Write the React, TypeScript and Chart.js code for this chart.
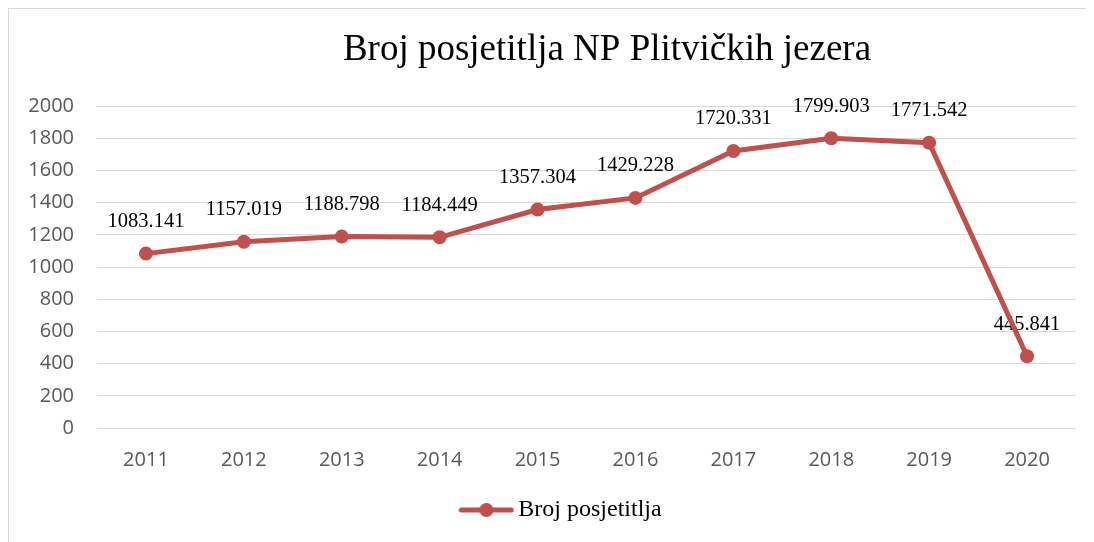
import React, { useEffect, useRef } from "react";
import { Chart, registerables } from "chart.js";

Chart.register(...registerables);

const years = ["2011", "2012", "2013", "2014", "2015", "2016", "2017", "2018", "2019", "2020"];
const visitors = [1083.141, 1157.019, 1188.798, 1184.449, 1357.304, 1429.228, 1720.331, 1799.903, 1771.542, 445.841];
const seriesName = "Broj posjetitlja";
const chartTitle = "Broj posjetitlja NP Plitvičkih jezera";
const yMin = 0;
const yMax = 2000;
const yStep = 200;

const RED = "#C0504D";

function makeLegendIcon(): HTMLCanvasElement {
  const c = document.createElement("canvas");
  c.width = 56;
  c.height = 16;
  const ctx = c.getContext("2d")!;
  ctx.strokeStyle = RED;
  ctx.lineWidth = 5;
  ctx.lineCap = "round";
  ctx.beginPath();
  ctx.moveTo(3, 8);
  ctx.lineTo(53, 8);
  ctx.stroke();
  ctx.fillStyle = RED;
  ctx.beginPath();
  ctx.arc(28, 8, 7, 0, Math.PI * 2);
  ctx.fill();
  return c;
}

export default function App() {
  const ref = useRef<HTMLCanvasElement>(null);

  useEffect(() => {
    document.body.style.overflow = "hidden";
    if (!ref.current) return;
    const icon = makeLegendIcon();

    const titlePlugin = {
      id: "customTitle",
      afterDraw(chart: any) {
        const ctx = chart.ctx;
        ctx.save();
        ctx.font = "37px 'Liberation Serif', 'Times New Roman', serif";
        ctx.fillStyle = "#000";
        ctx.textAlign = "center";
        ctx.textBaseline = "alphabetic";
        ctx.fillText(chartTitle, 599, 52);
        ctx.restore();
      },
    };

    const legendShift = {
      id: "legendShift",
      afterLayout(chart: any) {
        if (chart.legend) {
          chart.legend.left += 22;
          chart.legend.right += 22;
        }
      },
    };

    const labelPlugin = {
      id: "valueLabels",
      beforeDatasetsDraw(chart: any) {
        const ctx = chart.ctx;
        const meta = chart.getDatasetMeta(0);
        ctx.save();
        ctx.font = "20.5px 'Liberation Serif', 'Times New Roman', serif";
        ctx.fillStyle = "#000";
        ctx.textAlign = "center";
        ctx.textBaseline = "middle";
        meta.data.forEach((pt: any, i: number) => {
          ctx.fillText(visitors[i].toFixed(3), pt.x, pt.y - 32);
        });
        ctx.restore();
      },
    };

    const chart = new Chart(ref.current, {
      type: "line",
      data: {
        labels: years,
        datasets: [
          {
            label: seriesName,
            data: visitors,
            borderColor: RED,
            backgroundColor: RED,
            borderWidth: 5,
            pointRadius: 7,
            pointHoverRadius: 7,
            pointBackgroundColor: RED,
            pointBorderColor: RED,
            pointBorderWidth: 0,
            pointStyle: "circle",
            tension: 0,
          },
        ],
      },
      options: {
        animation: false,
        responsive: false,
        events: [],
        layout: { padding: { top: 98, right: 18, bottom: 10, left: 0 } },
        scales: {
          x: {
            offset: true,
            grid: { display: false },
            border: { display: false },
            ticks: {
              color: "#595959",
              font: { family: "'Open Sans', sans-serif", size: 20 },
              padding: 12,
            },
            afterFit(scale: any) {
              scale.height = 62;
            },
          },
          y: {
            min: yMin,
            max: yMax,
            grid: { color: "#d9d9d9", lineWidth: 1, drawTicks: false },
            border: { display: false },
            ticks: {
              stepSize: yStep,
              color: "#595959",
              font: { family: "'Open Sans', sans-serif", size: 20 },
              padding: 23,
              callback: (v: any) => String(v),
            },
            afterFit(scale: any) {
              scale.width = 89;
            },
          },
        },
        plugins: {
          title: { display: false },
          tooltip: { enabled: false },
          legend: {
            display: true,
            position: "bottom",
            labels: {
              usePointStyle: true,
              pointStyleWidth: 40,
              boxHeight: 20,
              color: "#000",
              font: { family: "'Liberation Serif', 'Times New Roman', serif", size: 24 },
              padding: 8,
              generateLabels: () => [
                {
                  text: seriesName,
                  fillStyle: RED,
                  strokeStyle: RED,
                  lineWidth: 0,
                  pointStyle: icon as any,
                  datasetIndex: 0,
                  hidden: false,
                },
              ],
            },
          },
        },
      },
      plugins: [titlePlugin, labelPlugin, legendShift],
    });
    return () => chart.destroy();
  }, []);

  return (
    <div style={{ position: "relative", width: 1086, height: 534, overflow: "hidden" }}>
      <div
        style={{
          position: "absolute",
          left: 0,
          top: 0,
          width: 1200,
          height: 700,
          border: "1px solid #d9d9d9",
          boxSizing: "border-box",
        }}
      />
      <canvas ref={ref} width={1086} height={534} style={{ position: "absolute", left: 0, top: 0 }} />
    </div>
  );
}
